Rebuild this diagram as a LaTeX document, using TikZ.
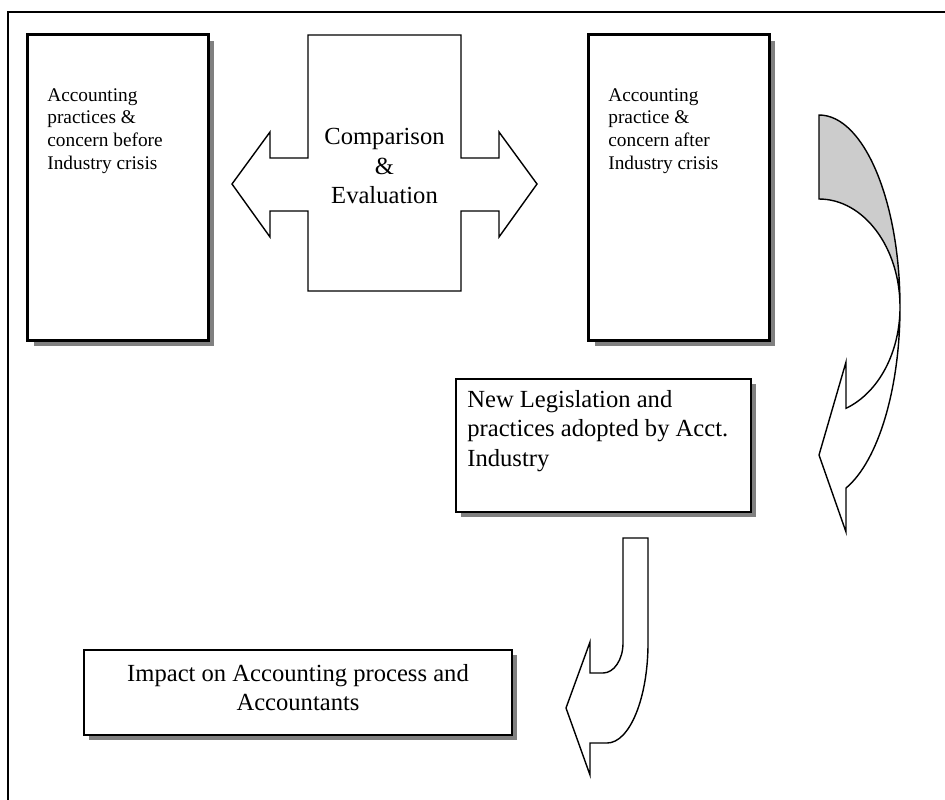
\documentclass[tikz,border=0pt]{standalone}
\usepackage{fontspec}
\setmainfont{Liberation Serif}
\usetikzlibrary{shadows}
\begin{document}
\begin{tikzpicture}[x=0.02cm, y=-0.02cm,
	tallBox/.style={rectangle, draw=black, line width=1.7pt, fill=white, minimum width=3.62cm, minimum height=6.12cm, drop shadow={shadow xshift=0.12cm, shadow yshift=-0.12cm, fill=gray, opacity=1}},
	flatBox/.style={rectangle, draw=black, line width=1.1pt, fill=white, drop shadow={shadow xshift=0.1cm, shadow yshift=-0.1cm, fill=gray, opacity=1}},
	smallText/.style={font=\fontsize{11}{12.9}\selectfont, align=left, anchor=north west, inner sep=0pt},
	bigText/.style={font=\fontsize{14}{16.8}\selectfont, inner sep=0pt},
	blockArrow/.style={draw=black, line width=0.8pt, fill=white, line join=miter}]
	\useasboundingbox (0,0) rectangle (945,799);
	\draw[line width=0.8pt] (8,812) -- (8,12) -- (960,12);
	\node[tallBox](before) at (118,187.5){};
	\node[smallText](beforeText) at (47,88){Accounting\\practices \&\\concern before\\Industry crisis};
	\node[tallBox](after) at (679,187.5){};
	\node[smallText](afterText) at (608,88){Accounting\\practice \&\\concern after\\Industry crisis};
	\draw[blockArrow] (308,35) -- (461,35) -- (461,158) -- (499,158) -- (499,132) -- (537,184) -- (499,237) -- (499,211) -- (461,211) -- (461,291) -- (308,291) -- (308,211) -- (270,211) -- (270,237) -- (232,184) -- (270,132) -- (270,158) -- (308,158) -- cycle;
	\node[bigText, anchor=north, align=center](compare) at (384.5,128){Comparison\\\&\\Evaluation};
	\draw[blockArrow, fill=gray!40] (819,115) .. controls (863.7,115) and (900,201) .. (900,307) .. controls (900,247.4) and (863.7,199) .. (819,199) -- cycle;
	\draw[blockArrow] (900,307) .. controls (900,352.1) and (878.8,392.6) .. (846,408.3) -- (846,362) -- (819,455) -- (846,532) -- (846,488) .. controls (878.3,461) and (900,388.2) .. (900,307) -- cycle;
	\node[flatBox, minimum width=5.9cm, minimum height=2.66cm](legislation) at (603.5,445.5){};
	\node[bigText, anchor=north west, align=left](legislationText) at (467,390){New Legislation and\\practices adopted by Acct.\\Industry};
	\draw[blockArrow] (623,538) -- (623,643) .. controls (623,659.6) and (614,673) .. (603,673) -- (590,673) -- (590,642) -- (566,708) -- (590,775) -- (590,743) -- (607,743) .. controls (629.6,743) and (648,698.2) .. (648,643) -- (648,538) -- cycle;
	\node[flatBox, minimum width=8.56cm, minimum height=1.7cm](impact) at (298,692.5){};
	\node[bigText, anchor=north, align=center](impactText) at (298,664){Impact on Accounting process and\\Accountants};
\end{tikzpicture}
\end{document}
